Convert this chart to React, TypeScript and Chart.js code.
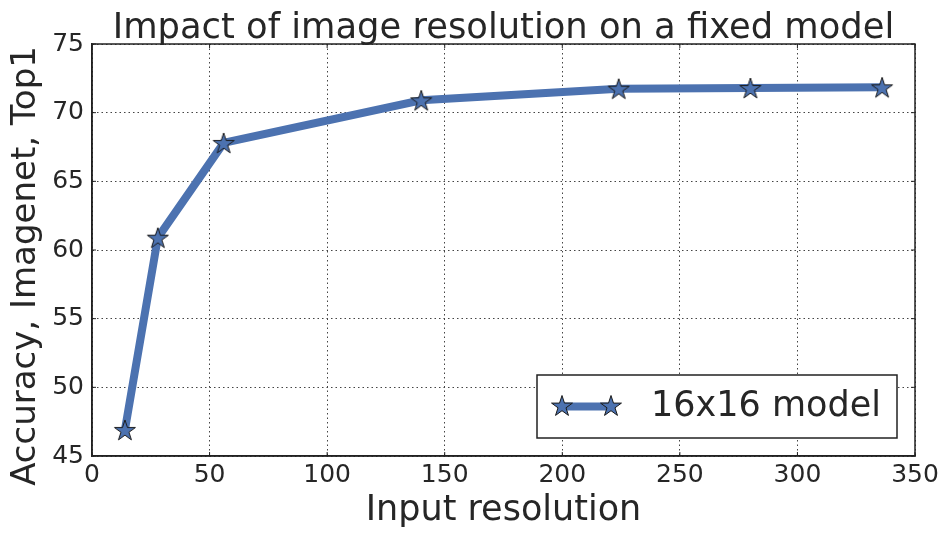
import React, { useEffect, useRef } from 'react';
import { Chart, registerables } from 'chart.js';

Chart.register(...registerables);

const resolutions = [14, 28, 56, 140, 224, 280, 336];
const accuracy = [46.9, 60.9, 67.8, 70.9, 71.75, 71.8, 71.85];
const seriesLabel = '16x16 model';
const chartTitle = 'Impact of image resolution on a fixed model';
const xTitle = 'Input resolution';
const yTitle = 'Accuracy, Imagenet, Top1';
const xMin = 0, xMax = 350, xStep = 50;
const yMin = 45, yMax = 75, yStep = 5;

const LINE_COLOR = '#4c72b0';
const TEXT_COLOR = '#262626';

function drawStar(ctx: CanvasRenderingContext2D, cx: number, cy: number, r: number) {
  const inner = r * 0.381966;
  ctx.beginPath();
  for (let i = 0; i < 10; i++) {
    const rad = i % 2 === 0 ? r : inner;
    const a = -Math.PI / 2 + (i * Math.PI) / 5;
    const px = cx + rad * Math.cos(a);
    const py = cy + rad * Math.sin(a);
    if (i === 0) ctx.moveTo(px, py);
    else ctx.lineTo(px, py);
  }
  ctx.closePath();
  ctx.fillStyle = LINE_COLOR;
  ctx.fill();
  ctx.lineWidth = 1;
  ctx.strokeStyle = '#1a1a1a';
  ctx.stroke();
}

function makeStarImage(r: number): HTMLCanvasElement {
  const size = Math.ceil(2 * r + 4);
  const c = document.createElement('canvas');
  c.width = size;
  c.height = size;
  const ctx = c.getContext('2d')!;
  drawStar(ctx, size / 2, size / 2 + 1, r);
  return c;
}

const framePlugin = {
  id: 'frame',
  beforeDatasetsDraw(chart: any) {
    const { ctx, chartArea } = chart;
    const { left, right, top, bottom } = chartArea;
    ctx.save();
    ctx.strokeStyle = '#222';
    ctx.lineWidth = 1.5;
    ctx.strokeRect(left, top, right - left, bottom - top);
    ctx.lineWidth = 1;
    const xs = chart.scales.x;
    const ys = chart.scales.y;
    const len = 4;
    for (let v = xMin; v <= xMax; v += xStep) {
      const px = xs.getPixelForValue(v);
      ctx.beginPath();
      ctx.moveTo(px, bottom);
      ctx.lineTo(px, bottom - len);
      ctx.moveTo(px, top);
      ctx.lineTo(px, top + len);
      ctx.stroke();
    }
    for (let v = yMin; v <= yMax; v += yStep) {
      const py = ys.getPixelForValue(v);
      ctx.beginPath();
      ctx.moveTo(left, py);
      ctx.lineTo(left + len, py);
      ctx.moveTo(right, py);
      ctx.lineTo(right - len, py);
      ctx.stroke();
    }
    // chart title, centred over the plot area
    ctx.fillStyle = TEXT_COLOR;
    ctx.font = '35.3px "DejaVu Sans"';
    ctx.textAlign = 'center';
    ctx.textBaseline = 'alphabetic';
    ctx.fillText(chartTitle, (left + right) / 2, top - 6);
    // y axis title
    ctx.save();
    ctx.translate(26, (top + bottom) / 2 + 16);
    ctx.rotate(-Math.PI / 2);
    ctx.fillStyle = TEXT_COLOR;
    ctx.font = '34px "DejaVu Sans"';
    ctx.textAlign = 'center';
    ctx.textBaseline = 'middle';
    ctx.fillText(yTitle, 0, 0);
    ctx.restore();
    ctx.restore();
  },
  afterDraw(chart: any) {
    const { ctx, chartArea } = chart;
    const w = 360, h = 63;
    const x = chartArea.right - 378;
    const y = chartArea.bottom - 81;
    ctx.save();
    ctx.fillStyle = '#ffffff';
    ctx.fillRect(x, y, w, h);
    ctx.strokeStyle = '#222';
    ctx.lineWidth = 1.5;
    ctx.strokeRect(x, y, w, h);
    const cy = y + h / 2;
    ctx.strokeStyle = LINE_COLOR;
    ctx.lineWidth = 8;
    ctx.beginPath();
    ctx.moveTo(x + 25, cy);
    ctx.lineTo(x + 74, cy);
    ctx.stroke();
    drawStar(ctx, x + 25, cy, 11);
    drawStar(ctx, x + 74, cy, 11);
    ctx.fillStyle = TEXT_COLOR;
    ctx.font = '35px "DejaVu Sans"';
    ctx.textBaseline = 'middle';
    ctx.textAlign = 'left';
    ctx.fillText(chart.data.datasets[0].label, x + 114, cy);
    ctx.restore();
  },
};

export default function App() {
  const ref = useRef<HTMLCanvasElement | null>(null);

  useEffect(() => {
    if (!ref.current) return;
    const star = makeStarImage(11);
    const chart = new Chart(ref.current, {
      type: 'line',
      data: {
        datasets: [
          {
            label: seriesLabel,
            data: resolutions.map((r, i) => ({ x: r, y: accuracy[i] })),
            borderColor: LINE_COLOR,
            backgroundColor: LINE_COLOR,
            borderWidth: 8,
            pointStyle: star as any,
            pointRadius: 11,
            pointHoverRadius: 11,
            tension: 0,
            clip: false as any,
          },
        ],
      },
      options: {
        responsive: false,
        animation: false,
        devicePixelRatio: 1,
        layout: { padding: { left: 0, right: 36, top: 44, bottom: 0 } },
        plugins: {
          legend: { display: false },
          tooltip: { enabled: false },
          title: { display: false },
        },
        scales: {
          x: {
            type: 'linear',
            min: xMin,
            max: xMax,
            afterFit: (s: any) => { s.height = 84; },
            ticks: {
              stepSize: xStep,
              color: TEXT_COLOR,
              font: { family: '"DejaVu Sans"', size: 25 },
              padding: 4,
              maxRotation: 0,
            },
            grid: { color: '#444', lineWidth: 1, drawTicks: false },
            border: { display: true, color: '#222', width: 1.5, dash: [1.5, 3] },
            title: {
              display: true,
              text: xTitle,
              color: TEXT_COLOR,
              font: { family: '"DejaVu Sans"', size: 35 },
              padding: { top: 0, bottom: 8 },
            },
          },
          y: {
            type: 'linear',
            min: yMin,
            max: yMax,
            afterFit: (s: any) => { s.width = 92; },
            ticks: {
              stepSize: yStep,
              color: TEXT_COLOR,
              font: { family: '"DejaVu Sans"', size: 25 },
              padding: 8,
            },
            grid: { color: '#444', lineWidth: 1, drawTicks: false },
            border: { display: true, color: '#222', width: 1.5, dash: [1.5, 3] },
            title: { display: false },
          },
        },
      },
      plugins: [framePlugin],
    });
    return () => chart.destroy();
  }, []);

  return (
    <div style={{ position: 'fixed', left: 0, top: 0, width: 951, height: 540, background: '#fff' }}>
      <canvas ref={ref} width={951} height={540} style={{ width: 951, height: 540 }} />
    </div>
  );
}
